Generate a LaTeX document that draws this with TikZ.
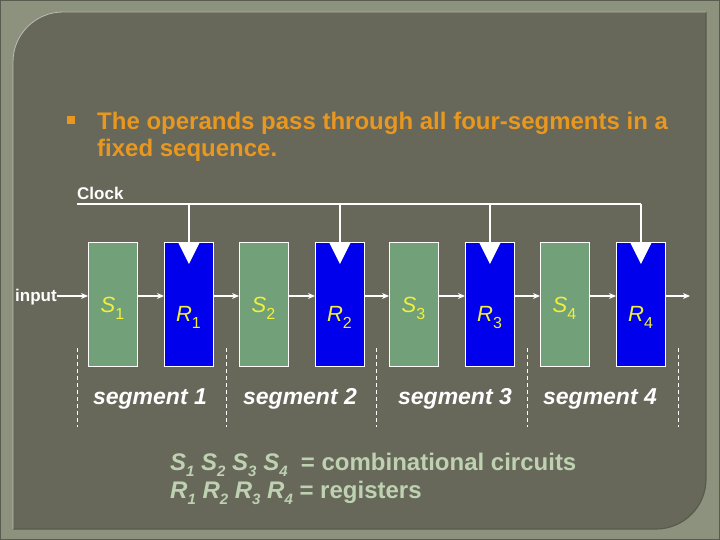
\documentclass[tikz,border=0pt]{standalone}
\usepackage{fontspec}
\setmainfont{Liberation Sans}
\usetikzlibrary{arrows.meta}
\definecolor{outerc}{RGB}{141,146,126}
\definecolor{innerc}{RGB}{103,103,90}
\definecolor{edgec}{RGB}{88,92,78}
\definecolor{orangec}{RGB}{232,152,32}
\definecolor{yellowc}{RGB}{240,240,60}
\definecolor{legendc}{RGB}{190,210,178}
\definecolor{sfill}{RGB}{114,160,120}
\definecolor{rfill}{RGB}{0,0,236}
\newcommand\boxlab[2]{\textit{#1}\raisebox{-7pt}{\fontsize{16}{16}\selectfont #2}}
\newcommand\leglab[2]{\textit{#1}\raisebox{-6pt}{\fontsize{15}{15}\selectfont\itshape #2}}
\begin{document}
\begin{tikzpicture}[x=1pt,y=-1pt,
  sbox/.style={draw=white,line width=0.9pt,fill=sfill,minimum width=49pt,minimum height=124pt,anchor=north west,inner sep=0pt},
  rbox/.style={draw=white,line width=0.9pt,fill=rfill,minimum width=49pt,minimum height=124pt,anchor=north west,inner sep=0pt},
  flow/.style={draw=white,line width=1.4pt,-{Stealth[length=7pt,width=6pt]}},
  clk/.style={draw=white,line width=1.4pt},
  seg/.style={draw=white,line width=0.9pt,dash pattern=on 4pt off 3pt},
  boxtext/.style={text=yellowc,font=\fontsize{22}{22}\selectfont,anchor=base,inner sep=0pt},
  segtext/.style={text=white,font=\fontsize{23}{23}\selectfont\bfseries\itshape,anchor=base,inner sep=0pt},
  lbl/.style={text=white,font=\fontsize{17}{17}\selectfont\bfseries,anchor=base west,inner sep=0pt}]
\useasboundingbox (0,0) rectangle (720,540);
% frame
\fill[outerc] (0,0) rectangle (720,540);
\draw[edgec,line width=1pt] (0.5,0.5) rectangle (719.5,539.5);
\fill[innerc] (13,529) -- (13,62) arc[start angle=180,end angle=270,radius=50] -- (706,12) -- (706,479) arc[start angle=0,end angle=90,radius=50] -- cycle;
\draw[edgec,line width=1.2pt] (706,12) -- (706,479) arc[start angle=0,end angle=90,radius=50] -- (13,529);
\draw[outerc!60!white,line width=0.8pt] (13,529) -- (13,62) arc[start angle=180,end angle=270,radius=50] -- (706,12);
% title
\fill[orangec] (67,116) rectangle (75,124);
\node[text=orangec,font=\fontsize{24}{27}\selectfont\bfseries,anchor=base west,inner sep=0pt,align=left] (title) at (97,157) {The operands pass through all four-segments in a\\fixed sequence.};
% boxes
\node[sbox] (s1) at (88,242) {};
\node[rbox] (r1) at (164,242) {};
\node[sbox] (s2) at (239,242) {};
\node[rbox] (r2) at (315,242) {};
\node[sbox] (s3) at (389,242) {};
\node[rbox] (r3) at (465,242) {};
\node[sbox] (s4) at (540,242) {};
\node[rbox] (r4) at (616,242) {};
% box labels
\node[boxtext] (ls1) at (112.5,312) {\boxlab{S}{1}};
\node[boxtext] (lr1) at (188.5,321) {\boxlab{R}{1}};
\node[boxtext] (ls2) at (263.5,312) {\boxlab{S}{2}};
\node[boxtext] (lr2) at (339.5,321) {\boxlab{R}{2}};
\node[boxtext] (ls3) at (413.5,312) {\boxlab{S}{3}};
\node[boxtext] (lr3) at (489.5,321) {\boxlab{R}{3}};
\node[boxtext] (ls4) at (564.5,312) {\boxlab{S}{4}};
\node[boxtext] (lr4) at (640.5,321) {\boxlab{R}{4}};
% clock
\node[lbl] (clock) at (77,200) {Clock};
\coordinate (c0) at (77,204);
\coordinate (c5) at (641,204);
\draw[clk] (c0) -- (c5);
\foreach \r in {r1,r2,r3,r4}{
  \draw[clk] (\r.north |- c0) -- (\r.north);
  \fill[white] ([xshift=-11pt]\r.north) -- ([xshift=11pt]\r.north) -- ([yshift=-22pt]\r.north) -- cycle;
}
% input and flow
\node[lbl] (input) at (15,301) {input};
\coordinate (out) at (690,296);
\draw[flow] (input.east |- 0,296) -- (s1.west |- 0,296);
\draw[flow] (s1.east |- 0,296) -- (r1.west |- 0,296);
\draw[flow] (r1.east |- 0,296) -- (s2.west |- 0,296);
\draw[flow] (s2.east |- 0,296) -- (r2.west |- 0,296);
\draw[flow] (r2.east |- 0,296) -- (s3.west |- 0,296);
\draw[flow] (s3.east |- 0,296) -- (r3.west |- 0,296);
\draw[flow] (r3.east |- 0,296) -- (s4.west |- 0,296);
\draw[flow] (s4.east |- 0,296) -- (r4.west |- 0,296);
\draw[flow] (r4.east |- 0,296) -- (out);
% segment dividers
\foreach \x/\n in {77/d0,226/d1,376/d2,527/d3,678/d4}{
  \coordinate (\n a) at (\x,348);
  \coordinate (\n b) at (\x,427);
  \draw[seg] (\n a) -- (\n b);
}
\node[segtext] (seg1) at (150,404) {segment 1};
\node[segtext] (seg2) at (300,404) {segment 2};
\node[segtext] (seg3) at (455,404) {segment 3};
\node[segtext] (seg4) at (600,404) {segment 4};
% legend
\node[text=legendc,font=\fontsize{24}{28}\selectfont\bfseries,anchor=base west,inner sep=0pt,align=left] (legend) at (170,498)
  {\leglab{S}{1} \leglab{S}{2} \leglab{S}{3} \leglab{S}{4}\ \ = combinational circuits\\
   \leglab{R}{1} \leglab{R}{2} \leglab{R}{3} \leglab{R}{4} = registers};
\end{tikzpicture}
\end{document}
